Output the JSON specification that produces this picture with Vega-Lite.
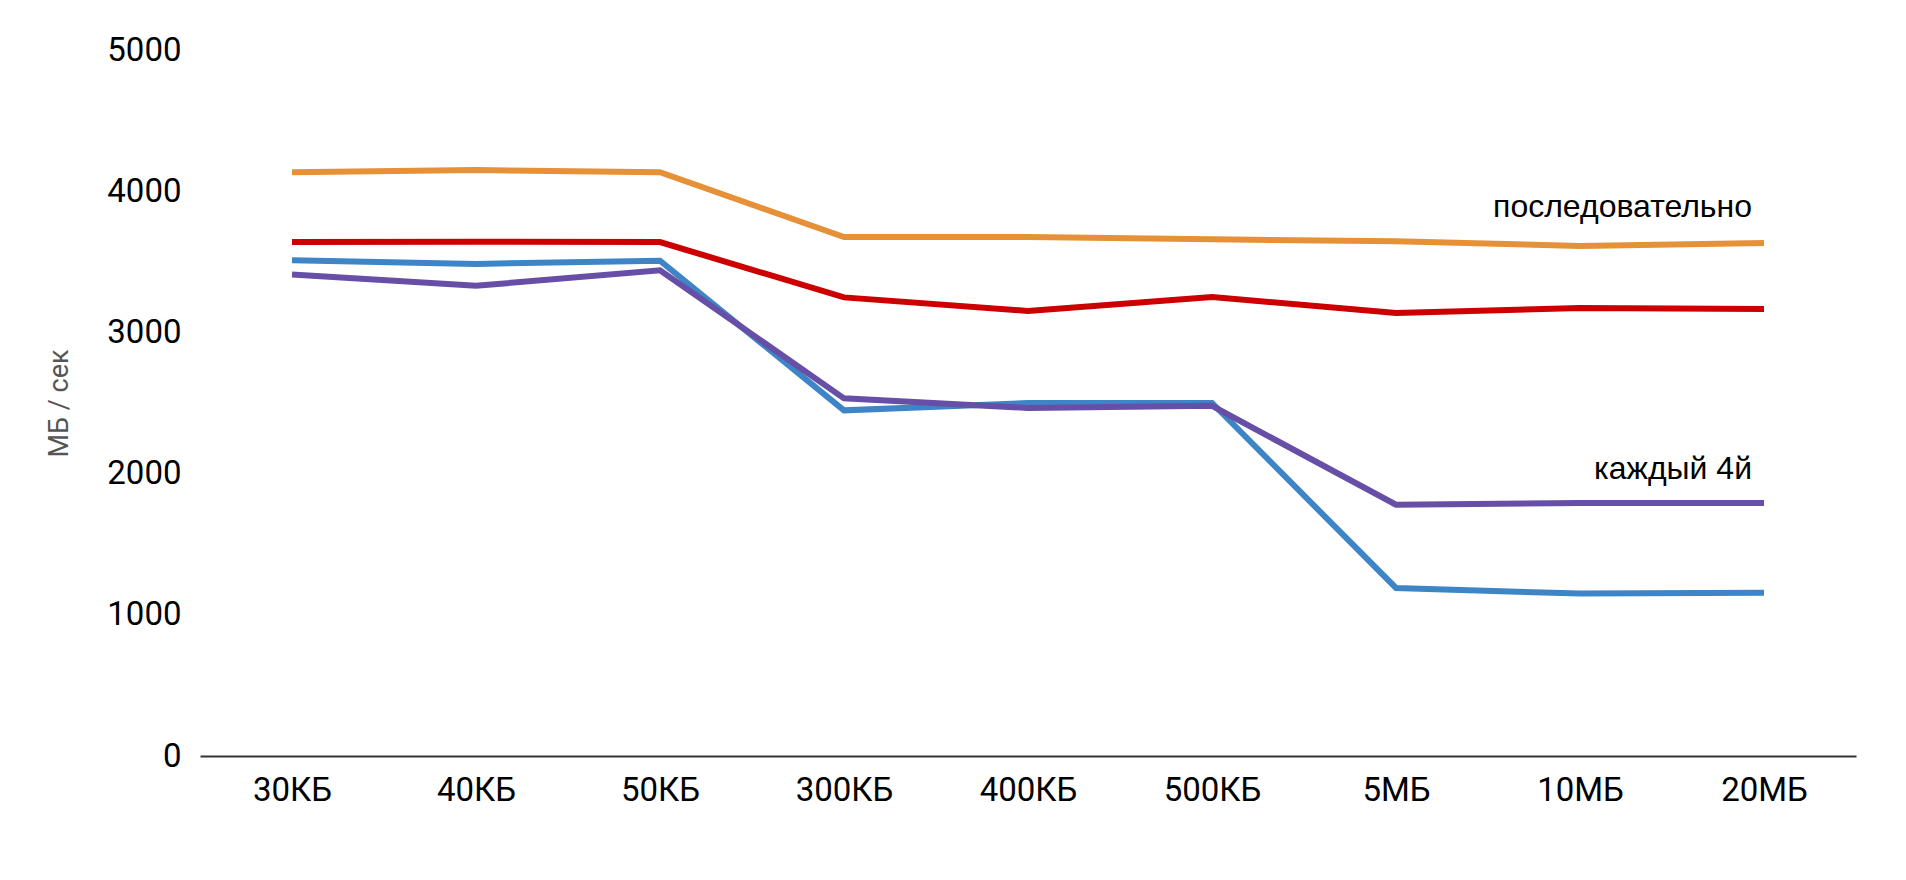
{
  "$schema": "https://vega.github.io/schema/vega-lite/v6.json",
  "autosize": "none",
  "width": 1656,
  "height": 706,
  "padding": {"left": 200, "top": 50, "right": 50, "bottom": 124},
  "background": "white",
  "config": {"view": {"stroke": null}},
  "datasets": {
    "series": [
      {"size": "30КБ", "s": "orange", "v": 4135},
      {"size": "40КБ", "s": "orange", "v": 4150},
      {"size": "50КБ", "s": "orange", "v": 4135},
      {"size": "300КБ", "s": "orange", "v": 3675},
      {"size": "400КБ", "s": "orange", "v": 3675},
      {"size": "500КБ", "s": "orange", "v": 3660},
      {"size": "5МБ", "s": "orange", "v": 3645},
      {"size": "10МБ", "s": "orange", "v": 3612},
      {"size": "20МБ", "s": "orange", "v": 3633},
      {"size": "30КБ", "s": "red", "v": 3640},
      {"size": "40КБ", "s": "red", "v": 3642},
      {"size": "50КБ", "s": "red", "v": 3640},
      {"size": "300КБ", "s": "red", "v": 3248},
      {"size": "400КБ", "s": "red", "v": 3152},
      {"size": "500КБ", "s": "red", "v": 3251},
      {"size": "5МБ", "s": "red", "v": 3138},
      {"size": "10МБ", "s": "red", "v": 3173},
      {"size": "20МБ", "s": "red", "v": 3166},
      {"size": "30КБ", "s": "blue", "v": 3511},
      {"size": "40КБ", "s": "blue", "v": 3485},
      {"size": "50КБ", "s": "blue", "v": 3508},
      {"size": "300КБ", "s": "blue", "v": 2448},
      {"size": "400КБ", "s": "blue", "v": 2500},
      {"size": "500КБ", "s": "blue", "v": 2500},
      {"size": "5МБ", "s": "blue", "v": 1190},
      {"size": "10МБ", "s": "blue", "v": 1150},
      {"size": "20МБ", "s": "blue", "v": 1156},
      {"size": "30КБ", "s": "purple", "v": 3410},
      {"size": "40КБ", "s": "purple", "v": 3330},
      {"size": "50КБ", "s": "purple", "v": 3440},
      {"size": "300КБ", "s": "purple", "v": 2533},
      {"size": "400КБ", "s": "purple", "v": 2465},
      {"size": "500КБ", "s": "purple", "v": 2480},
      {"size": "5МБ", "s": "purple", "v": 1780},
      {"size": "10МБ", "s": "purple", "v": 1792},
      {"size": "20МБ", "s": "purple", "v": 1792}
    ],
    "labels": [
      {"size": "20МБ", "v": 3888, "label": "последовательно"},
      {"size": "20МБ", "v": 2033, "label": "каждый 4й"}
    ]
  },
  "layer": [
    {
      "data": {"name": "series"},
      "mark": {"type": "line", "strokeCap": "butt", "strokeJoin": "miter"},
      "encoding": {
        "x": {
          "field": "size", "type": "ordinal",
          "sort": ["30КБ", "40КБ", "50КБ", "300КБ", "400КБ", "500КБ", "5МБ", "10МБ", "20МБ"],
          "scale": {"padding": 0.5},
          "axis": {
            "title": null, "labelAngle": 0, "ticks": false,
            "domainColor": "#333333", "domainWidth": 2,
            "labelFont": "Roboto", "labelFontSize": 33, "labelColor": "#000000",
            "labelPadding": 18, "grid": false
          }
        },
        "y": {
          "field": "v", "type": "quantitative",
          "scale": {"domain": [0, 5000]},
          "axis": {
            "title": "МБ / сек", "titleFont": "Roboto", "titleFontSize": 27,
            "titleFontWeight": "normal", "titleColor": "#555555", "titlePadding": 33,
            "values": [0, 1000, 2000, 3000, 4000, 5000], "format": "d",
            "domain": false, "ticks": false, "grid": false,
            "labelFont": "Roboto", "labelFontSize": 33, "labelColor": "#000000",
            "labelPadding": 19
          }
        },
        "color": {
          "field": "s", "type": "nominal", "legend": null,
          "scale": {"domain": ["orange", "red", "blue", "purple"], "range": ["#e69138", "#cc0000", "#3d85c6", "#674ea7"]}
        },
        "strokeWidth": {
          "field": "s", "type": "nominal", "legend": null,
          "scale": {"domain": ["orange", "red", "blue", "purple"], "range": [6, 6, 3.8, 3.8]}
        }
      }
    },
    {
      "data": {"name": "labels"},
      "mark": {"type": "text", "align": "right", "baseline": "middle", "dx": -12, "font": "Liberation Sans", "fontSize": 32, "color": "#000000"},
      "encoding": {
        "x": {"field": "size", "type": "ordinal", "sort": ["30КБ", "40КБ", "50КБ", "300КБ", "400КБ", "500КБ", "5МБ", "10МБ", "20МБ"]},
        "y": {"field": "v", "type": "quantitative"},
        "text": {"field": "label"}
      }
    }
  ]
}
